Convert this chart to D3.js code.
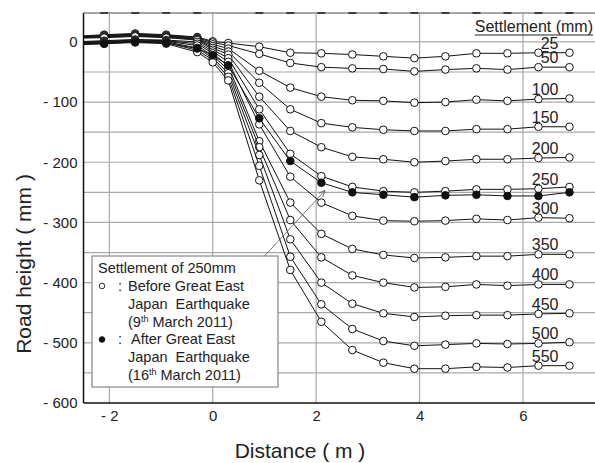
<!DOCTYPE html>
<meta charset="utf-8">
<style>
body { margin: 0; background: #fff; }
text { font-family: "Liberation Sans", Arial, sans-serif; fill: #222; }
.grid line { stroke: #a8a8a8; stroke-width: 1.2; }
.curve { fill: none; stroke: #111; stroke-width: 1; }
</style>
<svg width="595" height="463"></svg>
<script src="https://d3js.org/d3.v7.min.js"></script>
<script>

// distance of each survey point (m)
var distance = [-2.7, -2.1, -1.5, -0.9, -0.3, 0, 0.3, 0.9, 1.5, 2.1, 2.7, 3.3, 3.9, 4.5, 5.1, 5.7, 6.3, 6.9];

// road height (mm) before the earthquake, one array per settlement
var s25  = [9, 12, 14, 12, 8, 1, -2, -8, -18, -19, -21, -24, -27, -24, -19, -19, -18, -18],
    s50  = [8, 11, 13, 11, 7, -1, -6, -20, -35, -42, -44, -45, -49, -46, -44, -46, -42, -42],
    s100 = [8, 10, 12, 10, 6, -4, -11, -48, -76, -91, -97, -98, -101, -100, -96, -98, -95, -94],
    s150 = [7, 9, 11, 9, 5, -7, -16, -68, -112, -135, -142, -146, -148, -148, -145, -145, -141, -141],
    s200 = [7, 8, 10, 8, 4, -10, -21, -91, -148, -175, -191, -195, -200, -198, -195, -195, -193, -192],
    s250 = [6, 7, 9, 7, 3, -13, -27, -112, -186, -223, -241, -248, -250, -248, -245, -245, -244, -241],
    s300 = [0, 2, 4, 3, 0, -16, -33, -137, -224, -267, -289, -297, -298, -297, -294, -296, -292, -293],
    s350 = [-1, 1, 3, 2, -3, -19, -40, -165, -267, -319, -344, -354, -359, -358, -356, -356, -353, -353],
    s400 = [-2, 0, 2, 1, -6, -23, -46, -175, -296, -358, -388, -400, -408, -407, -403, -405, -403, -403],
    s450 = [-3, -1, 1, 0, -10, -27, -52, -188, -328, -400, -435, -451, -457, -455, -454, -454, -452, -451],
    s500 = [-4, -2, 0, -1, -14, -30, -58, -206, -357, -436, -477, -497, -505, -503, -501, -502, -501, -499],
    s550 = [-5, -3, -1, -3, -17, -34, -64, -230, -379, -465, -512, -533, -543, -543, -540, -541, -538, -538];

// settlement 250 mm after the earthquake
var after250 = [-4, -3, 0, -2, -11, -22, -39, -127, -198, -234, -250, -254, -258, -255, -254, -256, -256, -250];

var settlements = ["25", "50", "100", "150", "200", "250", "300", "350", "400", "450", "500", "550"];
var before = [s25, s50, s100, s150, s200, s250, s300, s350, s400, s450, s500, s550];

var xTicks = [-2, 0, 2, 4, 6],
    yTicks = [0, -100, -200, -300, -400, -500, -600],
    yGrid = d3.range(-550, 1, 50);

var arrowFrom = [1.0, -356], arrowTo = [2.17, -247];

var svg = d3.select("svg"),
    pLeft = 83.5, pRight = 600.5, pTop = 13, pBottom = 403;

var x = d3.scaleLinear().domain([-2.5, 7.5]).range([pLeft, pRight]),
    y = d3.scaleLinear().domain([-600, 48]).range([pBottom, pTop]);

var defs = svg.append("defs");
defs.append("clipPath").attr("id", "clip")
  .append("rect").attr("x", pLeft).attr("y", pTop - 6).attr("width", pRight - pLeft).attr("height", pBottom - pTop + 6);

defs.append("marker")
    .attr("id", "arr").attr("viewBox", "0 0 10 10").attr("refX", 9).attr("refY", 5)
    .attr("markerWidth", 7).attr("markerHeight", 7).attr("markerUnits", "userSpaceOnUse").attr("orient", "auto")
  .append("path").attr("d", "M0,1 L9,5 L0,9").attr("fill", "none").attr("stroke", "#666").attr("stroke-width", 1.3);

// grid
var grid = svg.append("g").attr("class", "grid");
grid.selectAll(".h").data(yGrid).enter().append("line")
    .attr("x1", pLeft).attr("x2", pRight)
    .attr("y1", function(d) { return y(d); }).attr("y2", function(d) { return y(d); });
grid.selectAll(".v").data(xTicks).enter().append("line")
    .attr("x1", function(d) { return x(d); }).attr("x2", function(d) { return x(d); })
    .attr("y1", pTop).attr("y2", pBottom);

// top border with short dark dashes
svg.append("line").attr("x1", pLeft).attr("x2", pRight).attr("y1", pTop).attr("y2", pTop)
    .attr("stroke", "#888").attr("stroke-width", 1.5);
svg.selectAll(".dash").data(distance.filter(function(d) { return d > -2.5 && d != 0 && d != 0.3; }))
  .enter().append("line")
    .attr("x1", function(d) { return x(d) - 4; }).attr("x2", function(d) { return x(d) + 4; })
    .attr("y1", pTop).attr("y2", pTop).attr("stroke", "#333").attr("stroke-width", 1.8);

// axes
var yAxis = svg.append("g").attr("transform", "translate(" + pLeft + ",0)")
    .call(d3.axisLeft(y).tickValues(yTicks).tickSize(0).tickPadding(6)
      .tickFormat(function(d) { return d < 0 ? "- " + (-d) : d; }));
var xAxis = svg.append("g").attr("transform", "translate(0," + pBottom + ")")
    .call(d3.axisBottom(x).tickValues(xTicks).tickSize(0).tickPadding(7)
      .tickFormat(function(d) { return d < 0 ? "- " + (-d) : d; }));
[yAxis, xAxis].forEach(function(a) {
  a.select(".domain").remove();
  a.selectAll("text").style("font-size", "15px").attr("fill", "#222")
    .style("font-family", "'Liberation Sans', Arial, sans-serif");
});
svg.append("line").attr("x1", pLeft).attr("x2", pLeft).attr("y1", pTop).attr("y2", pBottom).attr("stroke", "#111").attr("stroke-width", 1.5);
svg.append("line").attr("x1", pLeft).attr("x2", pRight).attr("y1", pBottom).attr("y2", pBottom).attr("stroke", "#111").attr("stroke-width", 1.5);

// curves
var plot = svg.append("g").attr("clip-path", "url(#clip)");
var line = d3.line().x(function(d, i) { return x(distance[i]); }).y(function(d) { return y(d); });

function drawSeries(vals, filled) {
  plot.append("path").attr("class", "curve").attr("d", line(vals));
  plot.selectAll(null).data(vals).enter().append("circle")
      .attr("cx", function(d, i) { return x(distance[i]); })
      .attr("cy", function(d) { return y(d); })
      .attr("r", 3.8)
      .attr("fill", filled ? "#111" : "#fff")
      .attr("stroke", "#111").attr("stroke-width", 1);
}
before.forEach(function(v) { drawSeries(v, false); });
drawSeries(after250, true);

// settlement labels beside the curves at 6.3 m
var iLab = distance.indexOf(6.3);
svg.selectAll(".lab").data(settlements).enter().append("text")
    .attr("x", x(6.3) + 20)
    .attr("y", function(d, i) { return y(before[i][iLab]) - 4; })
    .attr("text-anchor", "end").style("font-size", "16px")
    .text(function(d) { return d; });

var head = svg.append("text").attr("x", 593).attr("y", 32).attr("text-anchor", "end")
    .style("font-size", "16px").text("Settlement (mm)");
var hw = head.node().getComputedTextLength();
svg.append("line").attr("x1", 593 - hw).attr("x2", 593).attr("y1", 35).attr("y2", 35)
    .attr("stroke", "#222").attr("stroke-width", 1.1);

// legend
var lg = svg.append("g").style("font-size", "14.5px");
lg.append("rect").attr("x", 92).attr("y", 256).attr("width", 186).attr("height", 131)
    .attr("fill", "#fff").attr("stroke", "#888").attr("stroke-width", 1.2);
lg.append("text").attr("x", 98).attr("y", 272.5).text("Settlement of 250mm");
lg.append("circle").attr("cx", 102).attr("cy", 286).attr("r", 2.8).attr("fill", "#fff").attr("stroke", "#333");
lg.append("circle").attr("cx", 102).attr("cy", 339.5).attr("r", 2.8).attr("fill", "#111").attr("stroke", "#111");
lg.append("text").attr("x", 118).attr("y", 290.5).text(":");
lg.append("text").attr("x", 118).attr("y", 344).text(":");
lg.append("text").attr("x", 128).attr("y", 290.5).text("Before Great East");
lg.append("text").attr("x", 128).attr("y", 308.5).style("white-space", "pre").text("Japan  Earthquake");
var t1 = lg.append("text").attr("x", 128).attr("y", 326.5);
t1.append("tspan").text("(9");
t1.append("tspan").attr("dy", -5).style("font-size", "9px").text("th");
t1.append("tspan").attr("dy", 5).text(" March 2011)");
lg.append("text").attr("x", 131).attr("y", 344).text("After Great East");
lg.append("text").attr("x", 128).attr("y", 362).style("white-space", "pre").text("Japan  Earthquake");
var t2 = lg.append("text").attr("x", 128).attr("y", 380);
t2.append("tspan").text("(16");
t2.append("tspan").attr("dy", -5).style("font-size", "9px").text("th");
t2.append("tspan").attr("dy", 5).text(" March 2011)");

// arrow from legend to the 250 mm curve
svg.append("line")
    .attr("x1", x(arrowFrom[0])).attr("y1", y(arrowFrom[1]))
    .attr("x2", x(arrowTo[0])).attr("y2", y(arrowTo[1]))
    .attr("stroke", "#666").attr("stroke-width", 0.9).attr("marker-end", "url(#arr)");

// axis titles
svg.append("text").attr("x", 300).attr("y", 458).attr("text-anchor", "middle")
    .style("font-size", "21px").text("Distance ( m )");
svg.append("text").attr("transform", "translate(31,264) rotate(-90)").attr("text-anchor", "middle")
    .style("font-size", "21px").text("Road height ( mm )");

</script>
